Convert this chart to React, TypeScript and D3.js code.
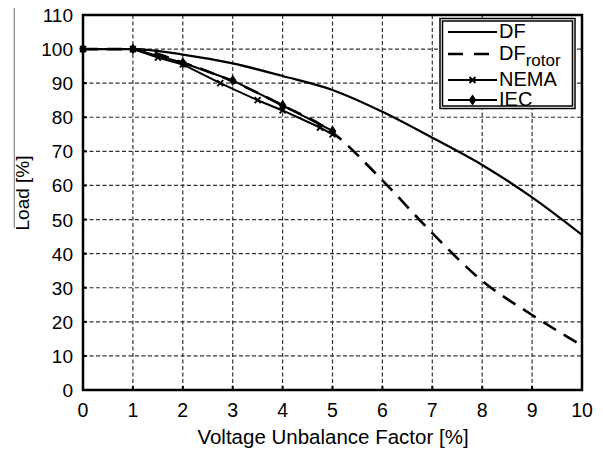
import React from "react";
import * as d3 from "d3";

const xTicks = [0, 1, 2, 3, 4, 5, 6, 7, 8, 9, 10];
const yTicks = [0, 10, 20, 30, 40, 50, 60, 70, 80, 90, 100, 110];

const dfX = [0, 1, 2, 3, 4, 5, 6, 7, 8, 9, 10];
const dfY = [100, 100, 98.4, 95.8, 92.1, 88, 81.6, 74, 66, 56.5, 45.5];

const rotorX = [0, 1, 2, 3, 4, 5, 6, 7, 8, 9, 10];
const rotorY = [100, 100, 96, 90.5, 83.5, 75.5, 61.5, 46, 32, 22, 13];

const nemaX = [0, 1, 1.5, 2, 2.75, 3.5, 4, 4.75, 5];
const nemaY = [100, 100, 97.5, 95.5, 90, 85, 82, 77, 75];

const iecX = [0, 1, 2, 3, 4, 5];
const iecY = [100, 100, 96, 90.8, 83.5, 76];

const W = 603;
const H = 452;
const M = { left: 83, right: 582, top: 15, bottom: 390 };
const FONT = "'Liberation Sans', Arial, sans-serif";

export default function App() {
  const x = d3.scaleLinear().domain([0, 10]).range([M.left, M.right]);
  const y = d3.scaleLinear().domain([0, 110]).range([M.bottom, M.top]);

  const line = d3
    .line<[number, number]>()
    .x((d) => x(d[0]))
    .y((d) => y(d[1]))
    .curve(d3.curveMonotoneX);
  const lineStraight = d3
    .line<[number, number]>()
    .x((d) => x(d[0]))
    .y((d) => y(d[1]));

  const zip = (a: number[], b: number[]) => a.map((v, i) => [v, b[i]] as [number, number]);
  const df = zip(dfX, dfY);
  const rotor = zip(rotorX, rotorY);
  const nema = zip(nemaX, nemaY);
  const iec = zip(iecX, iecY);

  const cross = (cx: number, cy: number, k: string, s = 3) => (
    <path
      key={k}
      d={`M${cx - s},${cy - s}L${cx + s},${cy + s}M${cx - s},${cy + s}L${cx + s},${cy - s}`}
      stroke="#000"
      strokeWidth={1.8}
    />
  );
  const diamond = (cx: number, cy: number, k: string, s = 5.5) => (
    <path
      key={k}
      d={`M${cx},${cy - s}L${cx + s * 0.7},${cy}L${cx},${cy + s}L${cx - s * 0.7},${cy}Z`}
      fill="#000"
    />
  );

  const lgX0 = 448;
  const lgX1 = 497;
  const lgTx = 499;
  const lgLines = [32, 54, 80, 100];
  const lgBase = [38, 60, 86, 106];

  return (
    <svg
      width={W}
      height={H}
      style={{ position: "absolute", left: 0, top: 0, background: "#fff" }}
      fontFamily={FONT}
    >
      <rect x={0} y={0} width={W} height={H} fill="#fff" />
      {/* grid */}
      {xTicks.slice(1, -1).map((t) => (
        <line
          key={"gx" + t}
          x1={x(t)}
          x2={x(t)}
          y1={M.top}
          y2={M.bottom}
          stroke="#333"
          strokeWidth={1.2}
          strokeDasharray="4,2.5"
        />
      ))}
      {yTicks.slice(1, -1).map((t) => (
        <line
          key={"gy" + t}
          x1={M.left}
          x2={M.right}
          y1={y(t)}
          y2={y(t)}
          stroke="#333"
          strokeWidth={1.2}
          strokeDasharray="4,2.5"
        />
      ))}
      {/* ticks */}
      {xTicks.map((t) => (
        <line key={"tx" + t} x1={x(t)} x2={x(t)} y1={M.bottom} y2={M.bottom - 4} stroke="#000" strokeWidth={2} />
      ))}
      {yTicks.map((t) => (
        <line key={"ty" + t} x1={M.left} x2={M.left + 4} y1={y(t)} y2={y(t)} stroke="#000" strokeWidth={2} />
      ))}

      {/* series */}
      <path d={line(df) || ""} fill="none" stroke="#000" strokeWidth={2.2} />
      <path d={line(rotor) || ""} fill="none" stroke="#000" strokeWidth={2.6} strokeDasharray="15,9" />
      <path d={lineStraight(nema) || ""} fill="none" stroke="#000" strokeWidth={2} />
      {nema.map((d, i) => cross(x(d[0]), y(d[1]), "n" + i))}
      <path d={lineStraight(iec) || ""} fill="none" stroke="#000" strokeWidth={2} />
      {iec.map((d, i) => diamond(x(d[0]), y(d[1]), "i" + i))}

      {/* frame */}
      <rect
        x={M.left}
        y={M.top}
        width={M.right - M.left}
        height={M.bottom - M.top}
        fill="none"
        stroke="#000"
        strokeWidth={2.5}
      />

      {/* legend */}
      <rect x={440} y={18.5} width={135} height={90} fill="#fff" stroke="#000" strokeWidth={1.5} />
      <rect x={442.5} y={21} width={130} height={85} fill="none" stroke="#000" strokeWidth={1.5} />
      <line x1={lgX0} x2={lgX1} y1={lgLines[0]} y2={lgLines[0]} stroke="#000" strokeWidth={2} />
      <line x1={lgX0} x2={lgX1} y1={lgLines[1]} y2={lgLines[1]} stroke="#000" strokeWidth={2.4} strokeDasharray="15,11" />
      <line x1={lgX0} x2={lgX1} y1={lgLines[2]} y2={lgLines[2]} stroke="#000" strokeWidth={2} />
      {cross((lgX0 + lgX1) / 2, lgLines[2], "lc")}
      <line x1={lgX0} x2={lgX1} y1={lgLines[3]} y2={lgLines[3]} stroke="#000" strokeWidth={2} />
      {diamond((lgX0 + lgX1) / 2, lgLines[3], "ld")}
      <text x={lgTx} y={lgBase[0]} fontSize={20}>DF</text>
      <text x={lgTx} y={lgBase[1]} fontSize={20}>
        DF
        <tspan fontSize={17} dy={6}>rotor</tspan>
      </text>
      <text x={lgTx} y={lgBase[2]} fontSize={20}>NEMA</text>
      <text x={lgTx} y={lgBase[3]} fontSize={20}>IEC</text>

      {/* tick labels */}
      {xTicks.map((t) => (
        <text key={"lx" + t} x={x(t)} y={417} fontSize={19.5} textAnchor="middle">
          {t}
        </text>
      ))}
      {yTicks.map((t) => (
        <text key={"ly" + t} x={73} y={y(t) + 7} fontSize={19} textAnchor="end">
          {t}
        </text>
      ))}

      {/* axis titles */}
      <text x={333} y={444} fontSize={20.5} textAnchor="middle">
        Voltage Unbalance Factor [%]
      </text>
      <line x1={14.3} x2={14.3} y1={8} y2={228} stroke="#888" strokeWidth={1.2} />
      <text transform="translate(29,193) rotate(-90)" fontSize={19} textAnchor="middle">
        Load [%]
      </text>
    </svg>
  );
}
